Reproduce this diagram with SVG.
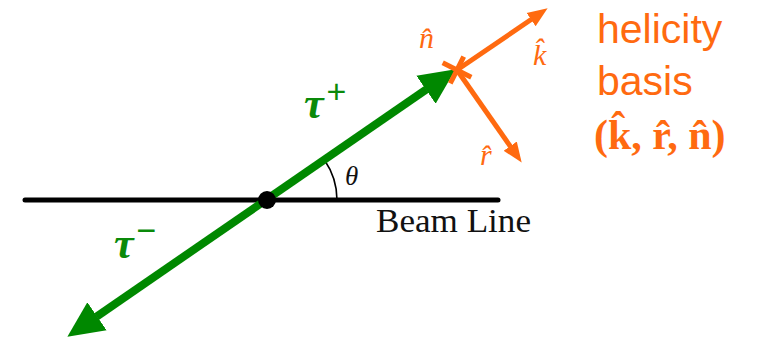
<svg xmlns="http://www.w3.org/2000/svg" width="758" height="341" viewBox="0 0 758 341">
<defs>
<style>
.orange{fill:#ff6a10}
.green{fill:#0a8a0a}
.math{font-family:"Liberation Serif",serif;font-style:italic}
.sans{font-family:"Liberation Sans",Arial,sans-serif}
</style>
<marker id="gh" markerUnits="userSpaceOnUse" viewBox="0 -20 40 40" markerWidth="40" markerHeight="40" refX="0.5" refY="0" orient="auto-start-reverse">
<path d="M0,-17 L36,0 L0,17 z" fill="#008800"/>
</marker>
<marker id="oh" markerUnits="userSpaceOnUse" viewBox="0 -10 22 20" markerWidth="22" markerHeight="20" refX="0.5" refY="0" orient="auto">
<path d="M0,-8 L20,0 L0,8 z" fill="#ff6a10"/>
</marker>
</defs>
<rect width="758" height="341" fill="#ffffff"/>
<g id="beam-line">
<line x1="25" y1="200" x2="498" y2="200" stroke="#000" stroke-width="5" stroke-linecap="round"/>
<text x="376" y="232" font-family="Liberation Serif,serif" font-size="34" textLength="155" lengthAdjust="spacingAndGlyphs" fill="#111">Beam Line</text>
</g>
<g id="angle">
<path d="M337,200 A70,70 0 0 0 324.6,160.3" fill="none" stroke="#000" stroke-width="1.6"/>
<text x="345" y="185" class="math" font-size="27" fill="#111">θ</text>
</g>
<g id="connectors">
<line x1="96.6" y1="316.6" x2="426.4" y2="89.4" stroke="#008800" stroke-width="8" marker-start="url(#gh)" marker-end="url(#gh)"/>
<line x1="457" y1="70" x2="531.5" y2="19.3" stroke="#ff6a10" stroke-width="5" marker-end="url(#oh)"/>
<line x1="457" y1="70" x2="510.5" y2="146.6" stroke="#ff6a10" stroke-width="5" marker-end="url(#oh)"/>
<line x1="442.7" y1="62.8" x2="471.3" y2="77.2" stroke="#ff6a10" stroke-width="5"/>
<line x1="463.7" y1="56.6" x2="450.3" y2="83.4" stroke="#ff6a10" stroke-width="5"/>
</g>
<g id="vertex">
<circle cx="267" cy="200" r="9" fill="#000"/>
</g>
<g id="tau-plus">
<text x="304" y="118" class="math green" font-size="44" font-weight="bold">τ<tspan font-family="Liberation Sans,sans-serif" font-size="34" font-style="normal" font-weight="normal" dx="3" dy="-15">+</tspan></text>
</g>
<g id="tau-minus">
<text x="114" y="258" class="math green" font-size="44" font-weight="bold">τ<tspan font-family="Liberation Sans,sans-serif" font-size="34" font-style="normal" font-weight="normal" dx="3" dy="-16">−</tspan></text>
</g>
<g id="frame-labels">
<text x="419" y="48" class="math orange" font-size="30">n̂</text>
<text x="533" y="65" class="math orange" font-size="30">k̂</text>
<text x="480" y="165" class="math orange" font-size="30">r̂</text>
</g>
<g id="helicity-basis">
<text x="597" y="43" class="sans orange" font-size="41">helicity</text>
<text x="597" y="95" class="sans orange" font-size="41">basis</text>
<text x="594" y="149" font-family="Liberation Serif,serif" font-weight="bold" font-size="42" class="orange">(k̂, r̂, n̂)</text>
</g>
</svg>
